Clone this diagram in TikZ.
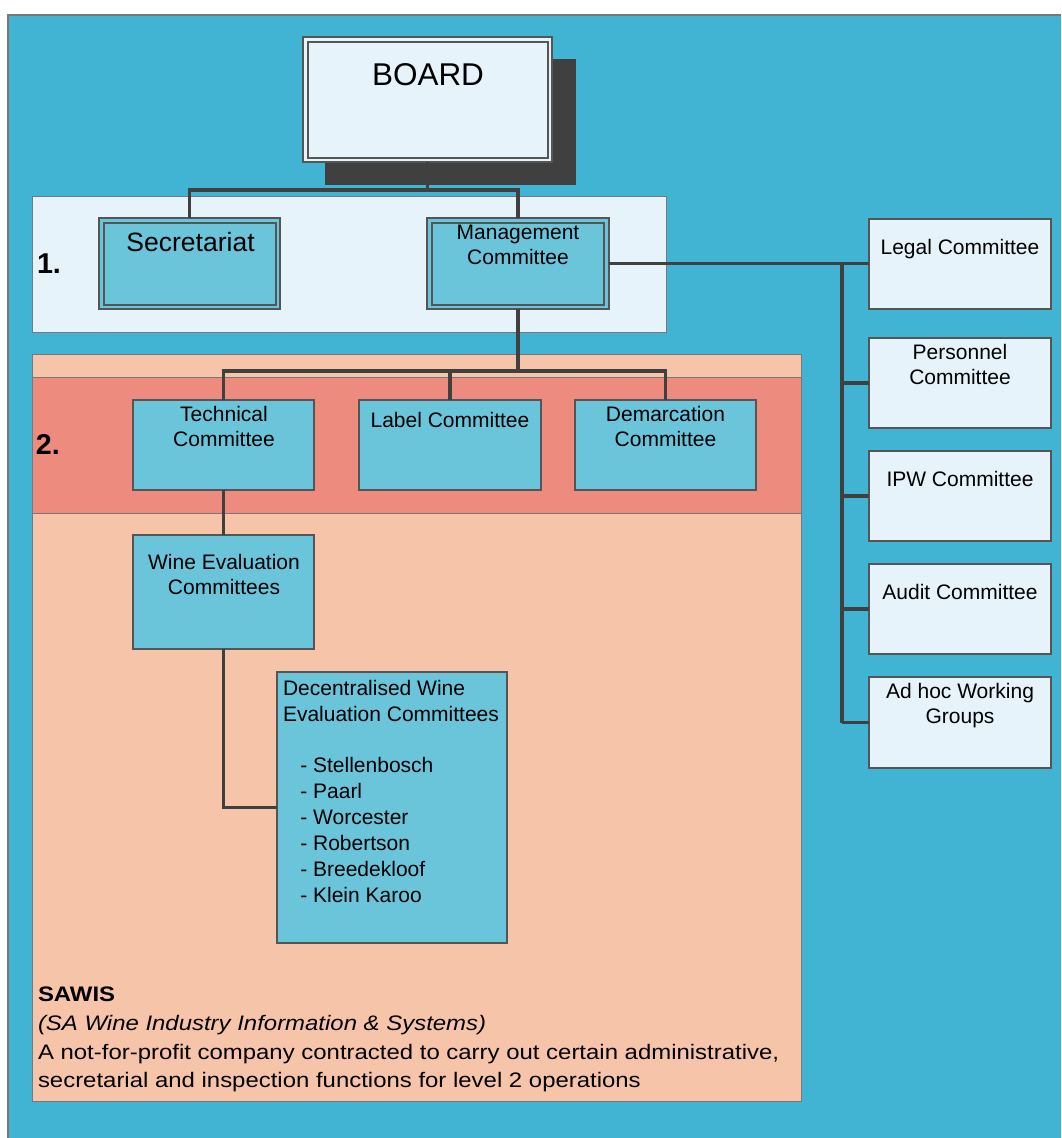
\documentclass[tikz,border=0pt]{standalone}
\usepackage{fontspec}
\setmainfont{Liberation Sans}
\newfontfamily\widefont[FakeStretch=1.14]{Liberation Sans}
\usetikzlibrary{fit}
\definecolor{bgblue}{RGB}{66,180,211}
\definecolor{lightfill}{RGB}{230,243,250}
\definecolor{midblue}{RGB}{106,196,218}
\definecolor{salmon}{RGB}{246,196,168}
\definecolor{salmondark}{RGB}{238,139,127}
\definecolor{shadowgray}{RGB}{64,64,64}
\definecolor{linegray}{RGB}{64,64,64}
\definecolor{bordergray}{RGB}{85,85,85}
\definecolor{framegray}{RGB}{120,120,120}
\begin{document}
\begin{tikzpicture}[x=0.75pt,y=-0.75pt,
  fitbox/.style={inner sep=0pt, outer sep=0pt},
  lightbox/.style={fitbox, fill=lightfill, draw=bordergray, line width=1.5pt},
  bluebox/.style={fitbox, fill=midblue, draw=bordergray, line width=1.5pt},
  innerline/.style={draw=bordergray, line width=1.5pt},
  band/.style={fitbox, draw=framegray, line width=0.75pt},
  conn/.style={draw=linegray, line width=2.4pt},
  txt/.style={inner sep=0pt, outer sep=0pt, font=\fontsize{15.75}{18.75}\selectfont, align=center},
  lvl/.style={inner sep=0pt, outer sep=0pt, anchor=base west, font=\fontsize{21.5}{24}\selectfont\bfseries},
]
\useasboundingbox (0,0) rectangle (1061,1138);
% background
\fill[bgblue] (8,15) rectangle (1061,1138);
\draw[framegray, line width=1.2pt] (8,1138) -- (8,15) -- (1061,15);

% level bands
\node[band, fill=lightfill, fit={(32,196) (666,332)}] (lvlone) {};
\node[band, fill=salmon, fit={(32,354) (801,1101)}] (lvltwo) {};
\node[band, fill=salmondark, fit={(32,377) (801,513)}] (bandtwo) {};

% board
\fill[shadowgray] (325,59) rectangle (576,185);
\node[lightbox, fit={(303,37) (552,162)}] (board) {};
\draw[innerline] (308,42) rectangle (548,158);
\node[txt, anchor=base, font=\fontsize{23.6}{28}\selectfont] (boardt) at (428,85) {BOARD};

% level 1 boxes
\node[bluebox, fit={(99,218) (280,309)}] (sec) {};
\draw[innerline] (104,223) rectangle (276,305);
\node[txt, anchor=base, font=\fontsize{19.9}{24}\selectfont] (sect) at (190.5,251.5) {Secretariat};
\node[bluebox, fit={(427,218) (609,309)}] (mgmt) {};
\draw[innerline] (432,223) rectangle (604,305);
\node[txt, anchor=north] (mgmtt) at (518,225.5) {Management\\Committee};

\node[lvl] (one) at (37,273) {1.};
\node[lvl] (two) at (36,454) {2.};

% right-hand committees
\node[lightbox, fit={(869,219) (1051,309)}] (legal) {};
\node[lightbox, fit={(869,338) (1051,428)}] (pers) {};
\node[lightbox, fit={(869,451) (1051,541)}] (ipw) {};
\node[lightbox, fit={(869,564) (1051,654)}] (audit) {};
\node[lightbox, fit={(869,677) (1051,768)}] (adhoc) {};
\node[txt, anchor=base] (legalt) at (960,254) {Legal Committee};
\node[txt, anchor=north] (perst) at (960,344) {Personnel\\Committee};
\node[txt, anchor=base] (ipwt) at (960,486) {IPW Committee};
\node[txt, anchor=base] (auditt) at (960,599) {Audit Committee};
\node[txt, anchor=north] (adhoct) at (960,683) {Ad hoc Working\\Groups};

% level 2 boxes
\node[bluebox, fit={(133,400) (314,490)}] (tech) {};
\node[bluebox, fit={(359,400) (541,490)}] (label) {};
\node[bluebox, fit={(575,400) (756,490)}] (demarc) {};
\node[txt, anchor=north] (techt) at (224,406.5) {Technical\\Committee};
\node[txt, anchor=base] (labelt) at (450,427) {Label Committee};
\node[txt, anchor=north] (demarct) at (665.5,406.5) {Demarcation\\Committee};

\node[bluebox, fit={(133,535) (314,649)}] (wec) {};
\node[txt, anchor=north] (wect) at (224,554) {Wine Evaluation\\Committees};

\node[bluebox, line width=1.2pt, fit={(277,672) (507,943)}] (dec) {};
\node[inner sep=0pt, outer sep=0pt, anchor=north west, align=left,
      font=\fontsize{15.75}{19.5}\selectfont] (dect) at (283,680)
  {Decentralised Wine\\Evaluation Committees\\[19pt]
   \hspace*{13pt}- Stellenbosch\\
   \hspace*{13pt}- Paarl\\
   \hspace*{13pt}- Worcester\\
   \hspace*{13pt}- Robertson\\
   \hspace*{13pt}- Breedekloof\\
   \hspace*{13pt}- Klein Karoo};

% SAWIS note
\node[inner sep=0pt, outer sep=0pt, anchor=north west, align=left,
      font=\widefont\fontsize{15.75}{21.5}\selectfont] (sawis) at (38,987)
  {\textbf{SAWIS}\\
   \textit{(SA Wine Industry Information \& Systems)}\\
   A not-for-profit company contracted to carry out certain administrative,\\
   secretarial and inspection functions for level 2 operations};

% connectors
\draw[conn] (board.south) -- ++(0,28) -| (sec.north);
\draw[conn] (board.south) -- ++(0,28) -| (mgmt.north);
\draw[conn] (mgmt.east) -- (mgmt.east -| legal.west);
\coordinate (trunk) at (842,263.5);
\draw[conn] (trunk) -- (trunk |- adhoc.west);
\draw[conn] (trunk |- pers.west) -- (pers.west);
\draw[conn] (trunk |- ipw.west) -- (ipw.west);
\draw[conn] (trunk |- audit.west) -- (audit.west);
\draw[conn] (trunk |- adhoc.west) -- (adhoc.west);
\draw[conn] (mgmt.south) -- ++(0,62) -| (tech.north);
\draw[conn] (mgmt.south) -- ++(0,62) -| (label.north);
\draw[conn] (mgmt.south) -- ++(0,62) -| (demarc.north);
\draw[conn] (tech.south) -- (wec.north);
\draw[conn] (wec.south) |- (dec.west);
\end{tikzpicture}
\end{document}
